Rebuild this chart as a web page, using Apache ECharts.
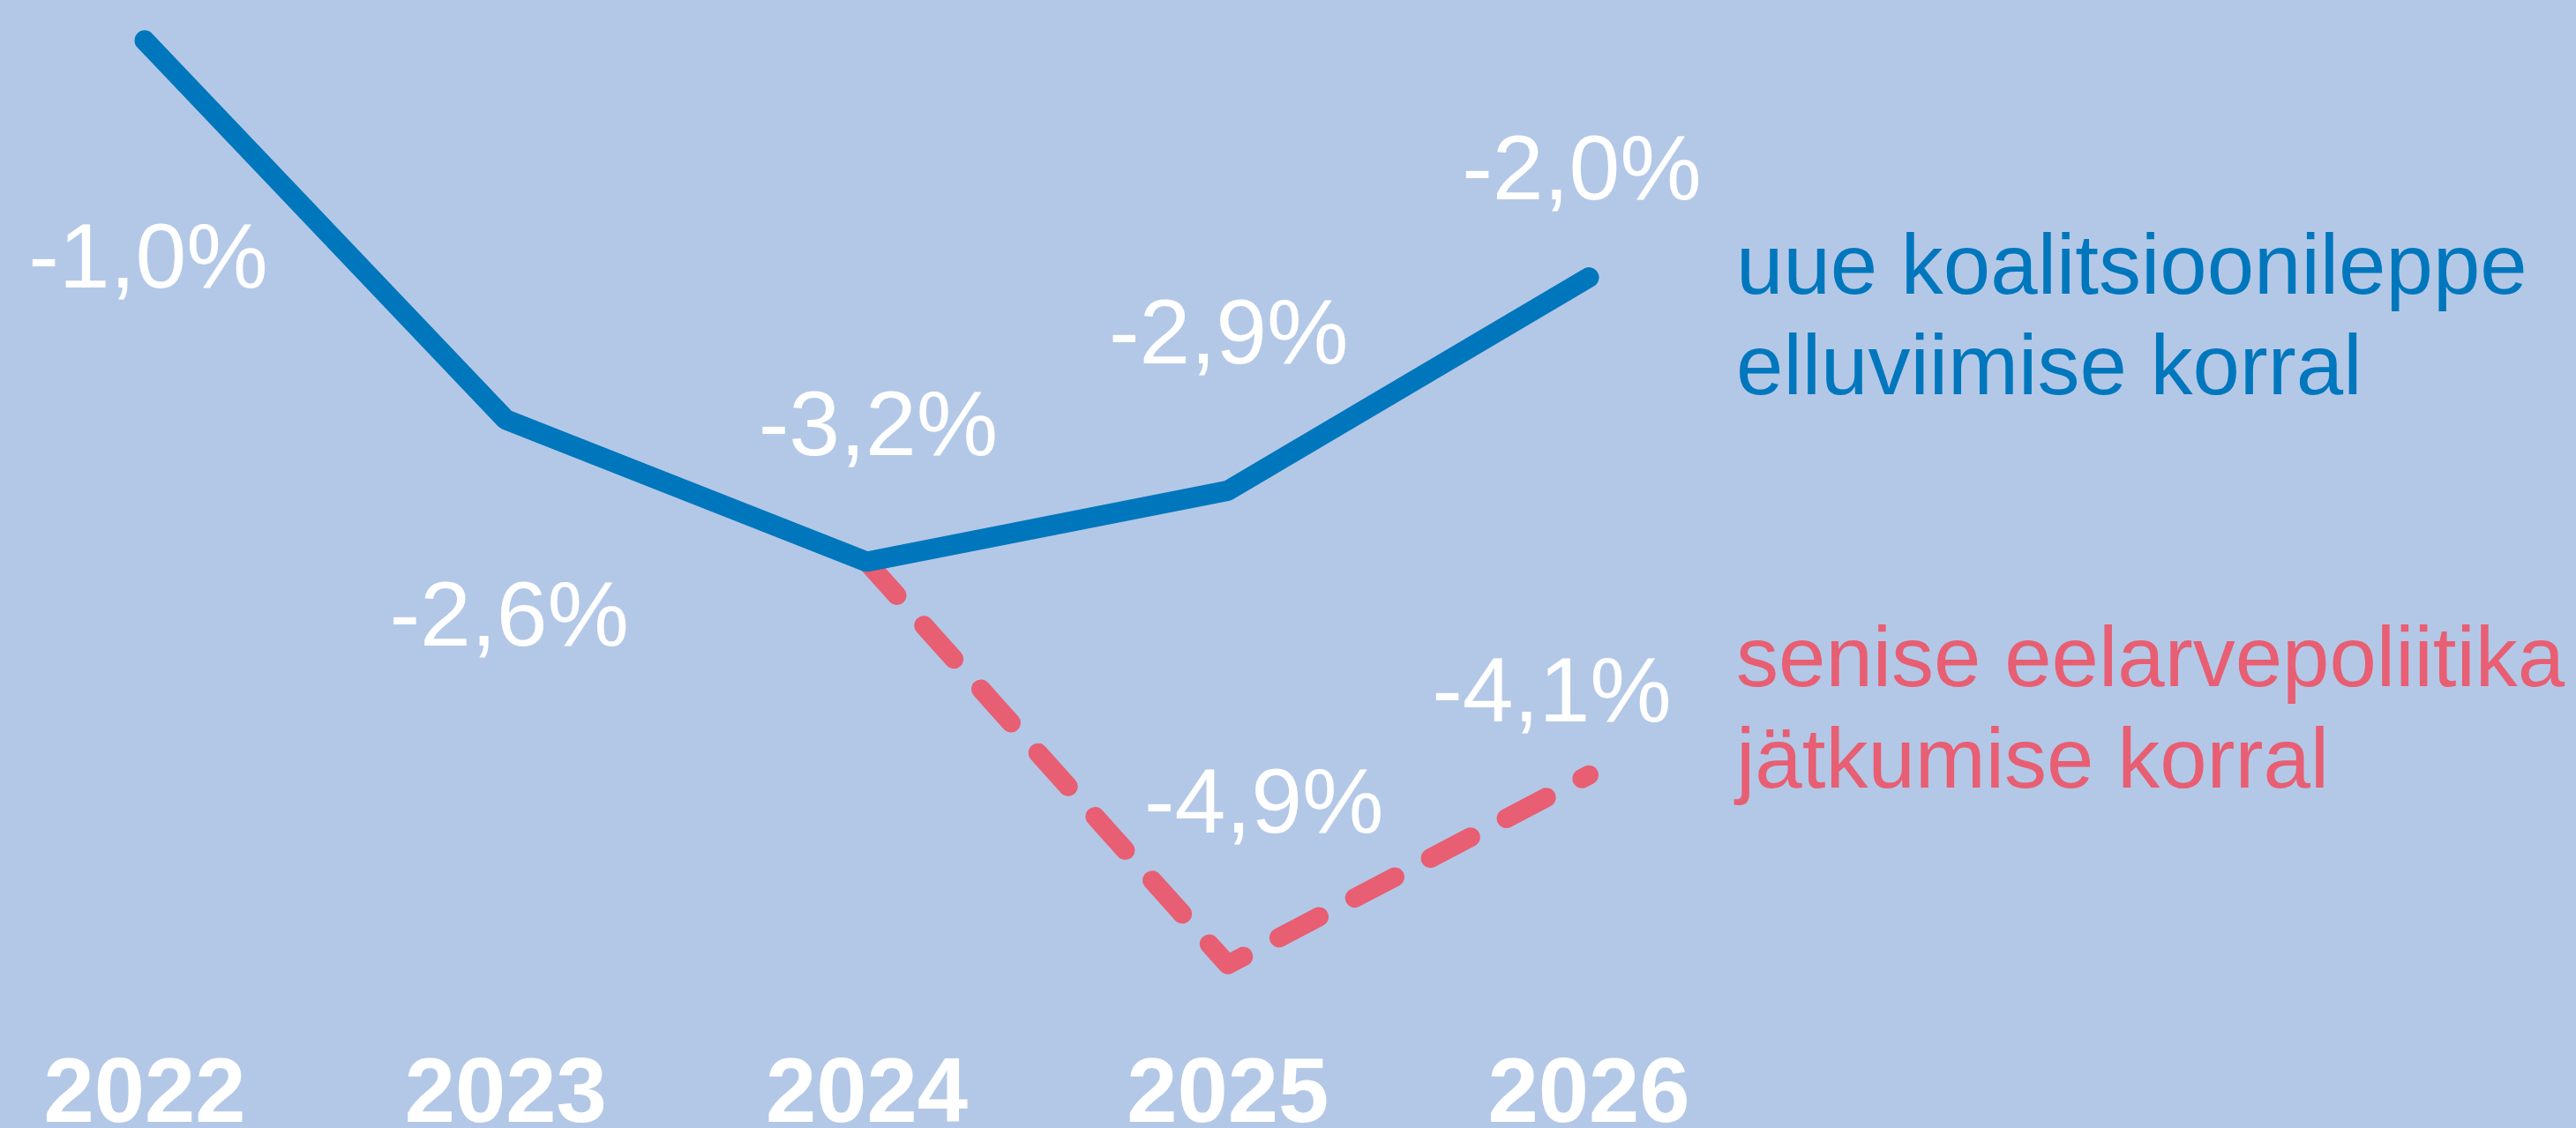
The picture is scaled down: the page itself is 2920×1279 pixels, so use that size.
<!DOCTYPE html>
<html>
<head>
<meta charset="utf-8">
<script src="https://cdn.jsdelivr.net/npm/echarts@6/dist/echarts.min.js"></script>
<style>
  html, body { margin: 0; padding: 0; background: #b3c8e7; }
  #chart { width: 2920px; height: 1279px; }
</style>
</head>
<body>
<div id="chart"></div>
<script>
// andmed
var years = ["2022", "2023", "2024", "2025", "2026"];
var uusLepe = [-1.0, -2.6, -3.2, -2.9, -2.0];
var senine = [null, null, -3.2, -4.9, -4.1];

// sildi nihked punkti suhtes (px)
var uusOffsets = [[4, 251], [4, 228], [13, -150], [1, -173], [-8, -117]];
var senineOffsets = [null, null, null, [41, -178], [-42, -89]];

var BLUE = "#0077bc";
var RED = "#e85e72";

var myChart = echarts.init(document.getElementById("chart"));

function fmt(v) {
  return v.toFixed(1).replace(".", ",") + "%";
}

function withLabels(values, offsets) {
  return values.map(function (v, i) {
    if (v === null) return null;
    var off = offsets[i];
    return {
      value: v,
      label: off ? { show: true, offset: off } : { show: false }
    };
  });
}

var labelBase = {
  show: true,
  position: "inside",
  color: "#ffffff",
  fontFamily: "Liberation Sans, Arial, sans-serif",
  fontSize: 104,
  lineHeight: 104,
  align: "center",
  verticalAlign: "middle",
  formatter: function (p) {
    return fmt(p.value);
  }
};

var option = {
  backgroundColor: "#b3c8e7",
  animation: false,
  grid: {
    left: 164,
    right: 1119,
    top: 19,
    bottom: 24,
    outerBoundsMode: "none"
  },
  xAxis: {
    type: "category",
    data: years,
    boundaryGap: false,
    axisLine: { show: false },
    axisTick: { show: false },
    splitLine: { show: false },
    axisLabel: {
      color: "#ffffff",
      fontFamily: "Liberation Sans, Arial, sans-serif",
      fontWeight: "bold",
      fontSize: 103,
      lineHeight: 103,
      verticalAlign: "middle",
      margin: -11,
      interval: 0
    }
  },
  yAxis: {
    type: "value",
    min: -5.5,
    max: -0.9,
    show: false,
    splitLine: { show: false }
  },
  series: [
    {
      name: "senise eelarvepoliitika jätkumise korral",
      type: "line",
      data: withLabels(senine, senineOffsets),
      symbol: "circle",
      symbolSize: 1,
      itemStyle: { color: RED },
      lineStyle: {
        color: RED,
        width: 22,
        type: [51, 46],
        cap: "round",
        join: "round"
      },
      label: labelBase,
      z: 2
    },
    {
      name: "uue koalitsioonileppe elluviimise korral",
      type: "line",
      data: withLabels(uusLepe, uusOffsets),
      symbol: "circle",
      symbolSize: 1,
      itemStyle: { color: BLUE },
      lineStyle: {
        color: BLUE,
        width: 23,
        cap: "round",
        join: "bevel"
      },
      label: labelBase,
      z: 3
    }
  ],
  graphic: [
    {
      type: "text",
      left: 1968,
      top: 250,
      style: {
        text: "uue koalitsioonileppe\nelluviimise korral",
        fill: BLUE,
        font: "96px 'Liberation Sans', Arial, sans-serif",
        lineHeight: 114
      }
    },
    {
      type: "text",
      left: 1968,
      top: 694,
      style: {
        text: "senise eelarvepoliitika\njätkumise korral",
        fill: RED,
        font: "96px 'Liberation Sans', Arial, sans-serif",
        lineHeight: 115
      }
    }
  ]
};

myChart.setOption(option);
</script>
</body>
</html>
